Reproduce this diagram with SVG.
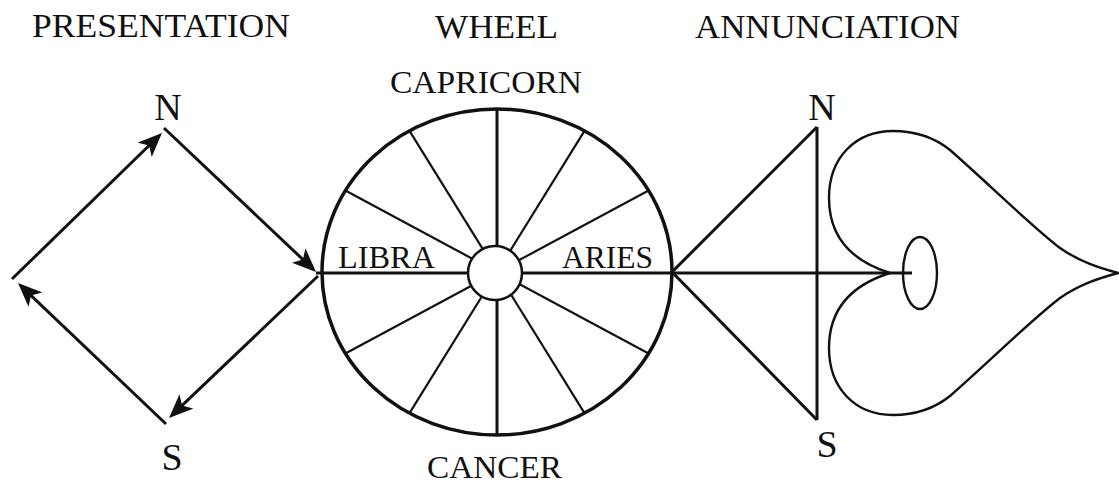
<svg xmlns="http://www.w3.org/2000/svg" width="1119" height="484" viewBox="0 0 1119 484">
<style>
text{font-family:"Liberation Serif","Times New Roman",serif;fill:#111;}
.title{font-size:33px;}
.lbl{font-size:31px;}
.pole{font-size:38px;}
.thick{stroke:#111;stroke-width:3;fill:none;}
.spoke{stroke:#111;stroke-width:2.2;fill:none;}
.thin{stroke:#111;stroke-width:2.4;fill:none;}
</style>
<defs>
<marker id="arr" markerUnits="userSpaceOnUse" markerWidth="26" markerHeight="20" viewBox="0 0 26 20" refX="20" refY="10" orient="auto">
<path d="M0,0 L24,10 L0,20 L6,10 Z" fill="#111"/>
</marker>
</defs>
<rect width="1119" height="484" fill="#fff"/>
<g id="titles">
<text class="title" x="32" y="37" textLength="258" lengthAdjust="spacingAndGlyphs">PRESENTATION</text>
<text class="title" x="435" y="38" textLength="123" lengthAdjust="spacingAndGlyphs">WHEEL</text>
<text class="title" x="695" y="38" textLength="265" lengthAdjust="spacingAndGlyphs">ANNUNCIATION</text>
</g>
<g id="presentation">
<text class="pole" x="168" y="120" text-anchor="middle">N</text>
<text class="pole" x="172" y="470" text-anchor="middle">S</text>
</g>
<g id="connectors">
<line class="thick" x1="12" y1="279" x2="159.1" y2="135.8" marker-end="url(#arr)"/>
<line class="thick" x1="164" y1="128" x2="313.1" y2="269.2" marker-end="url(#arr)"/>
<line class="thick" x1="318" y1="276" x2="171.9" y2="415.2" marker-end="url(#arr)"/>
<line class="thick" x1="166" y1="424" x2="20.9" y2="285.8" marker-end="url(#arr)"/>
<line class="thick" x1="316" y1="273" x2="912" y2="273"/>
</g>
<g id="wheel">
<line class="thick" x1="497" y1="109" x2="497" y2="272"/>
<line class="thick" x1="497" y1="272" x2="497" y2="435"/>
<line class="spoke" x1="497" y1="272" x2="584.5" y2="130.8"/>
<line class="spoke" x1="497" y1="272" x2="648.6" y2="190.5"/>
<line class="spoke" x1="497" y1="272" x2="648.6" y2="353.5"/>
<line class="spoke" x1="497" y1="272" x2="584.5" y2="413.2"/>
<line class="spoke" x1="497" y1="272" x2="409.5" y2="413.2"/>
<line class="spoke" x1="497" y1="272" x2="345.4" y2="353.5"/>
<line class="spoke" x1="497" y1="272" x2="345.4" y2="190.5"/>
<line class="spoke" x1="497" y1="272" x2="409.5" y2="130.8"/>
<ellipse cx="497" cy="272" rx="175" ry="163" fill="none" stroke="#111" stroke-width="3.5"/>
<circle cx="495" cy="273" r="27" fill="#fff" stroke="#111" stroke-width="2.5"/>
<text class="lbl" x="390" y="93" textLength="192" lengthAdjust="spacingAndGlyphs">CAPRICORN</text>
<text class="lbl" x="427" y="478" textLength="135" lengthAdjust="spacingAndGlyphs">CANCER</text>
<text class="lbl" x="338" y="268" textLength="97" lengthAdjust="spacingAndGlyphs">LIBRA</text>
<text class="lbl" x="562" y="268" textLength="91" lengthAdjust="spacingAndGlyphs">ARIES</text>
</g>
<g id="annunciation">
<polyline class="thick" points="817,127 672,272 817,420"/>
<line class="thick" x1="817" y1="127" x2="817" y2="420"/>
<text class="pole" x="822" y="120" text-anchor="middle">N</text>
<text class="pole" x="827" y="457" text-anchor="middle">S</text>
<path class="thin" d="M 890 273 C 855 262, 829 240, 829 198 C 829 158, 855 131, 893 131 C 918 131, 935 138, 950 150 C 990 185, 1030 225, 1060 248 C 1080 262, 1100 268, 1118 273 C 1100 278, 1080 284, 1060 298 C 1030 321, 990 361, 950 396 C 935 408, 918 415, 893 415 C 855 415, 829 388, 829 348 C 829 306, 855 284, 890 273 Z"/>
<ellipse class="thin" cx="920" cy="273" rx="17" ry="36"/>
</g>
</svg>
